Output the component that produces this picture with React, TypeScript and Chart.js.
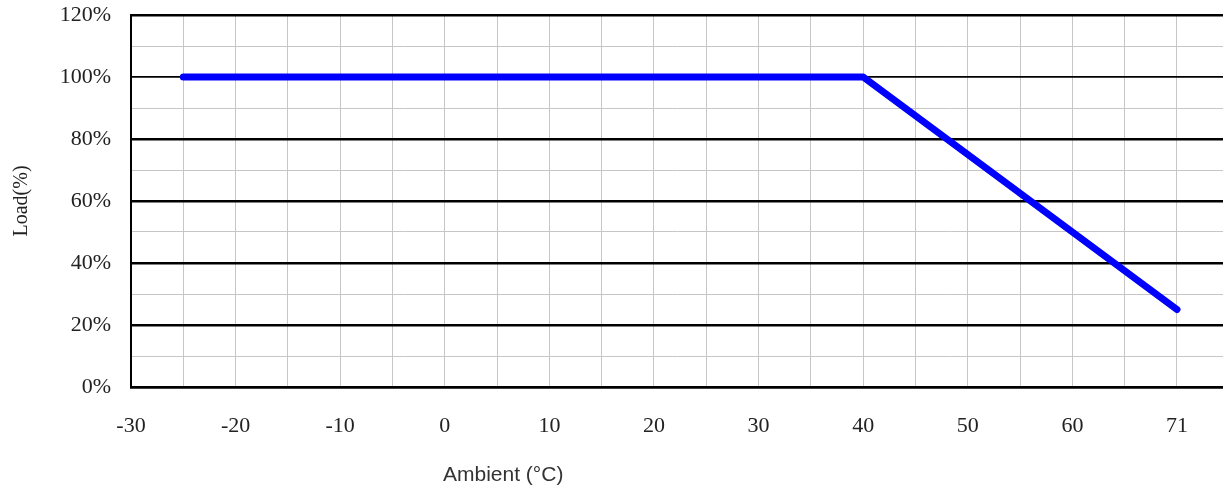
import React, { useEffect, useRef } from "react";
import { Chart, registerables } from "chart.js";

Chart.register(...registerables);

// Data
const ambientTemps = [-25, 40, 70];
const loadPercent = [100, 100, 25];

// Grid / tick values
const xGridValues = [-30, -25, -20, -15, -10, -5, 0, 5, 10, 15, 20, 25, 30, 35, 40, 45, 50, 55, 60, 65, 70];
const xLabelValues = [-30, -20, -10, 0, 10, 20, 30, 40, 50, 60, 70];
const xLabelTexts = ["-30", "-20", "-10", "0", "10", "20", "30", "40", "50", "60", "71"];
const yLabelValues = [0, 20, 40, 60, 80, 100, 120];
const yLabelTexts = ["0%", "20%", "40%", "60%", "80%", "100%", "120%"];

export default function App() {
  const canvasRef = useRef<HTMLCanvasElement | null>(null);

  useEffect(() => {
    if (!canvasRef.current) return;
    const chart = new Chart(canvasRef.current, {
      type: "scatter",
      data: {
        datasets: [
          {
            data: ambientTemps.map((t, i) => ({ x: t, y: loadPercent[i] })),
            showLine: true,
            borderColor: "#0000ff",
            backgroundColor: "#0000ff",
            borderWidth: 7,
            borderCapStyle: "round",
            borderJoinStyle: "round",
            pointRadius: 0,
            pointHoverRadius: 0,
          } as any,
        ],
      },
      options: {
        animation: false,
        responsive: true,
        maintainAspectRatio: false,
        events: [],
        layout: { padding: { top: 15, right: 0, left: 0, bottom: 0 } },
        plugins: {
          legend: { display: false },
          tooltip: { enabled: false },
          title: { display: false },
        },
        scales: {
          x: {
            type: "linear",
            min: -30,
            max: 74.4,
            afterBuildTicks: (scale: any) => {
              scale.ticks = xGridValues.map((v) => ({ value: v }));
            },
            afterFit: (scale: any) => {
              scale.height = 108;
              scale.paddingLeft = 0;
              scale.paddingRight = 0;
            },
            border: { display: true, color: "#000", width: 2.5 },
            grid: {
              drawTicks: false,
              color: (ctx: any) => (ctx.tick && ctx.tick.value === -30 ? "#000" : "#c6c6c6"),
              lineWidth: (ctx: any) => (ctx.tick && ctx.tick.value === -30 ? 2 : 1),
            },
            ticks: {
              autoSkip: false,
              maxRotation: 0,
              padding: 26,
              color: "#222",
              font: { family: "'Liberation Serif', serif", size: 22 },
              callback: (value: any) => {
                const i = xLabelValues.indexOf(Number(value));
                return i >= 0 ? xLabelTexts[i] : "";
              },
            },
          },
          y: {
            type: "linear",
            min: 0,
            max: 120,
            afterFit: (scale: any) => {
              scale.width = 131;
              scale.paddingTop = 0;
              scale.paddingBottom = 0;
            },
            border: { display: true, color: "#000", width: 2 },
            grid: {
              drawTicks: false,
              color: (ctx: any) => {
                const v = ctx.tick ? ctx.tick.value : 0;
                return v % 20 === 0 ? "#000" : "#c6c6c6";
              },
              lineWidth: (ctx: any) => {
                const v = ctx.tick ? ctx.tick.value : 0;
                if (v % 20 !== 0) return 1;
                if (v === 100) return 1.8;
                return 2.6;
              },
            },
            ticks: {
              stepSize: 10,
              padding: 20,
              color: "#222",
              font: { family: "'Liberation Serif', serif", size: 22 },
              callback: (value: any) => {
                const i = yLabelValues.indexOf(Number(value));
                return i >= 0 ? yLabelTexts[i] : "";
              },
            },
            title: {
              display: true,
              text: "Load(%)",
              color: "#222",
              padding: { top: 10, bottom: 0 },
              font: { family: "'Liberation Serif', serif", size: 20 },
            },
          },
        },
      },
    });
    return () => chart.destroy();
  }, []);

  return (
    <div style={{ position: "absolute", left: 0, top: 0, width: 1223, height: 495, background: "#fff" }}>
      <canvas ref={canvasRef} />
      <div
        style={{
          position: "absolute",
          left: 443,
          top: 462,
          fontFamily: "'Liberation Sans', Arial, sans-serif",
          fontSize: 21,
          color: "#333",
          whiteSpace: "nowrap",
          lineHeight: "24px",
        }}
      >
        Ambient (°C)
      </div>
    </div>
  );
}
